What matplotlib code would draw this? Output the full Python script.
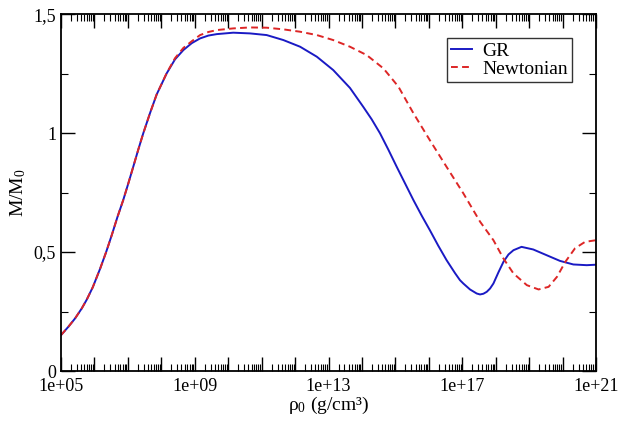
import numpy as np
import matplotlib
matplotlib.use("Agg")
import matplotlib.pyplot as plt
from matplotlib.ticker import LogLocator, FuncFormatter, MultipleLocator, NullFormatter

plt.rcParams['font.family'] = ['Liberation Serif', 'DejaVu Serif']

# values (log10 of central density, M/M0)
gr_logrho = [5.0, 5.22, 5.42, 5.62, 5.77, 5.95, 6.17, 6.35, 6.52, 6.69, 6.86,
             7.01, 7.16, 7.31, 7.46, 7.66, 7.86, 8.16, 8.41, 8.66, 8.91, 9.16,
             9.41, 9.66, 10.15, 10.65, 11.15, 11.65, 12.15, 12.65, 13.14, 13.64,
             14.04, 14.29, 14.54, 14.79, 15.04, 15.29, 15.54, 15.79, 16.03, 16.28,
             16.53, 16.78, 16.93, 17.03, 17.23, 17.43, 17.53, 17.63, 17.73, 17.83,
             17.93, 18.08, 18.23, 18.38, 18.53, 18.77, 19.12, 19.52, 19.92, 20.32,
             20.72, 21.0]
gr_mass = [0.151, 0.186, 0.221, 0.263, 0.30, 0.352, 0.43, 0.5, 0.572, 0.648, 0.718,
           0.787, 0.858, 0.93, 0.999, 1.083, 1.162, 1.251, 1.31, 1.349, 1.378, 1.398,
           1.41, 1.416, 1.422, 1.419, 1.412, 1.391, 1.363, 1.321, 1.265, 1.19,
           1.11, 1.058, 0.999, 0.93, 0.858, 0.788, 0.718, 0.652, 0.592, 0.527,
           0.466, 0.412, 0.382, 0.368, 0.343, 0.326, 0.322, 0.325, 0.333, 0.347,
           0.368, 0.415, 0.459, 0.49, 0.508, 0.522, 0.511, 0.487, 0.463, 0.448,
           0.445, 0.447]

newt_logrho = [5.0, 5.22, 5.42, 5.62, 5.77, 5.95, 6.17, 6.35, 6.52, 6.69, 6.86,
               7.01, 7.16, 7.31, 7.46, 7.66, 7.86, 8.16, 8.41, 8.66, 8.91, 9.16,
               9.41, 9.66, 10.15, 10.65, 11.15, 11.65, 12.15, 12.65, 13.14, 13.64,
               14.14, 14.64, 14.84, 15.09, 15.54, 16.03, 16.53, 17.03, 17.53, 17.93,
               18.23, 18.53, 18.93, 19.28, 19.58, 19.83, 20.08, 20.37, 20.67, 21.0]
newt_mass = [0.151, 0.186, 0.221, 0.263, 0.30, 0.352, 0.43, 0.5, 0.572, 0.648, 0.718,
             0.787, 0.858, 0.93, 0.999, 1.083, 1.162, 1.252, 1.315, 1.358, 1.386, 1.412,
             1.425, 1.433, 1.44, 1.444, 1.443, 1.436, 1.426, 1.412, 1.391, 1.363,
             1.328, 1.272, 1.238, 1.195, 1.083, 0.97, 0.858, 0.747, 0.628, 0.55,
             0.473, 0.41, 0.361, 0.343, 0.354, 0.396, 0.459, 0.516, 0.543, 0.55]

fig = plt.figure(figsize=(6.19, 4.28), dpi=100)
ax = fig.add_axes([0.0985, 0.133, 0.8645, 0.834])

ax.plot(10.0 ** np.array(gr_logrho), gr_mass, color='#1a1ac4', lw=1.4, label='GR')
ax.plot(10.0 ** np.array(newt_logrho), newt_mass, color='#dd2626', lw=1.4,
        dashes=(3.5, 2.2), label='Newtonian')

ax.set_xscale('log')
ax.set_xlim(1e5, 1e21)
ax.set_ylim(0, 1.5)

ax.xaxis.set_major_locator(LogLocator(base=10, numticks=30))
ax.xaxis.set_minor_locator(LogLocator(base=10, subs=np.arange(2, 10), numticks=30))
ax.xaxis.set_minor_formatter(NullFormatter())


def xfmt(v, pos):
    e = int(round(np.log10(v)))
    if (e - 5) % 4 == 0:
        return '1e+%02d' % e
    return ''


ax.xaxis.set_major_formatter(FuncFormatter(xfmt))
ax.yaxis.set_major_locator(MultipleLocator(0.5))
ax.yaxis.set_minor_locator(MultipleLocator(0.25))
ax.yaxis.set_major_formatter(FuncFormatter(lambda v, p: ('%g' % v).replace('.', ',')))

ax.tick_params(which='both', direction='in', top=True, right=True, labelsize=13)
ax.tick_params(which='major', length=10, width=1)
ax.tick_params(which='minor', length=5, width=0.8)
ax.tick_params(axis='x', which='major', pad=5)
for s in ax.spines.values():
    s.set_linewidth(1.3)

ax.set_xlabel(r'$\mathregular{\rho_0}$ (g/cm³)', fontsize=14, labelpad=0)
ax.set_ylabel(r'M/M$\mathregular{_0}$', fontsize=14, labelpad=4)

leg = ax.legend(loc='upper right', bbox_to_anchor=(0.955, 0.933), fontsize=14,
                borderaxespad=0, fancybox=False, edgecolor='#333333', framealpha=1,
                handlelength=1.1, handletextpad=0.5, borderpad=0.22,
                labelspacing=0.0)
leg.get_frame().set_linewidth(1.0)

fig.savefig('out.png', dpi=100)
